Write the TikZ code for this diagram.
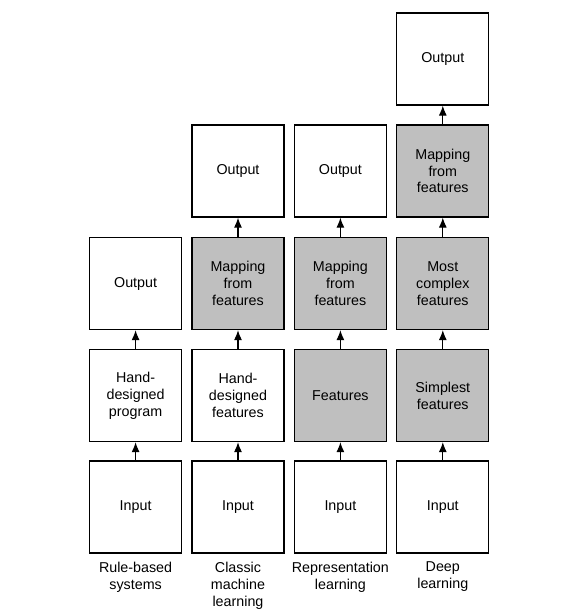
\documentclass[tikz,border=0pt]{standalone}
\usepackage{fontspec}
\setmainfont{Liberation Sans}
\usepackage{tikz}
\usetikzlibrary{arrows.meta,positioning}

\definecolor{featgray}{gray}{0.75}

\begin{document}
\begin{tikzpicture}[x=1pt,y=-1pt,
    box/.style={draw,line width=1.3pt,minimum size=92pt,inner sep=0pt,align=center,
                font=\fontsize{14.3}{16.8}\selectfont},
    learned/.style={box,fill=featgray},
    up/.style={line width=1.1pt,-{Latex[length=10pt,width=8pt]}},
    caption/.style={anchor=north,align=center,font=\fontsize{14.3}{17}\selectfont}]
          \useasboundingbox (0,0) rectangle (577,609);

          % rule-based systems
          \node[box] (rin) at (135.6,507) {Input};
          \node[box] (rprog) at (135.6,395.5) {Hand-\\designed\\program};
          \node[box] (rout) at (135.6,283.5) {Output};

          % classic machine learning
          \node[box] (cin) at (238,507) {Input};
          \node[box] (cfeat) at (238,395.5) {Hand-\\designed\\features};
          \node[learned] (cmap) at (238,283.5) {Mapping\\from\\features};
          \node[box] (cout) at (238,171) {Output};

          % representation learning
          \node[box] (pin) at (340.4,507) {Input};
          \node[learned] (pfeat) at (340.4,395.5) {Features};
          \node[learned] (pmap) at (340.4,283.5) {Mapping\\from\\features};
          \node[box] (pout) at (340.4,171) {Output};

          % deep learning
          \node[box] (din) at (442.8,507) {Input};
          \node[learned] (dsimple) at (442.8,395.5) {Simplest\\features};
          \node[learned] (dcomplex) at (442.8,283.5) {Most\\complex\\features};
          \node[learned] (dmap) at (442.8,171) {Mapping\\from\\features};
          \node[box] (dout) at (442.8,59) {Output};

          \draw[up] (rin) -- (rprog);
          \draw[up] (rprog) -- (rout);
          \draw[up] (cin) -- (cfeat);
          \draw[up] (cfeat) -- (cmap);
          \draw[up] (cmap) -- (cout);
          \draw[up] (pin) -- (pfeat);
          \draw[up] (pfeat) -- (pmap);
          \draw[up] (pmap) -- (pout);
          \draw[up] (din) -- (dsimple);
          \draw[up] (dsimple) -- (dcomplex);
          \draw[up] (dcomplex) -- (dmap);
          \draw[up] (dmap) -- (dout);

          \node[caption] (rlab) at (135.6,558.5) {Rule-based\\systems};
          \node[caption] (clab) at (238,558.5) {Classic\\machine\\learning};
          \node[caption] (plab) at (340.4,558.5) {Representation\\learning};
          \node[caption] (dlab) at (442.8,558.5) {Deep\\learning};
        \end{tikzpicture}
\end{document}
